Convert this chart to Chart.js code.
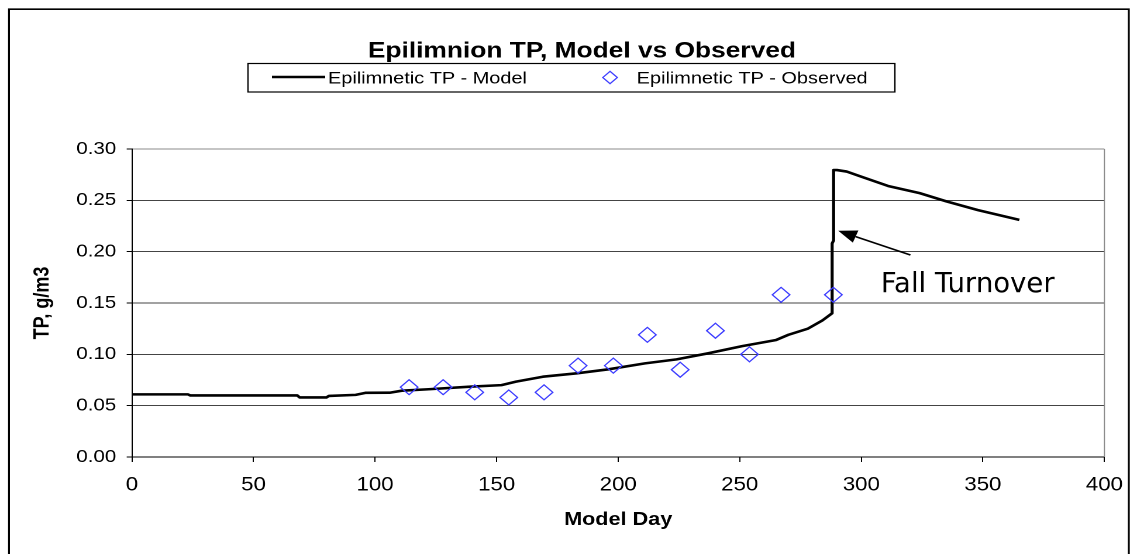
<!DOCTYPE html>
<html>
<head>
<meta charset="utf-8">
<script src="https://cdn.jsdelivr.net/npm/chart.js@4.4.1/dist/chart.umd.min.js"></script>
<style>
  html, body { margin: 0; padding: 0; background: #fff; overflow: hidden; }
  #wrap { width: 972px; height: 554px; transform: scaleX(1.16975); transform-origin: 0 0; }
</style>
</head>
<body>
<div id="wrap"><canvas id="c" width="972" height="554"></canvas></div>
<script>
// ---- data ----
const modelDays = [0, 23, 24, 68, 69, 80, 81, 92, 96, 106, 111, 122, 139, 152, 158, 169, 183, 196, 211, 224, 237, 251, 265, 270, 278, 284, 288, 288, 288.6, 288.6, 290, 294, 300, 311, 324, 335, 348, 365];
const modelTP   = [0.061, 0.061, 0.060, 0.060, 0.058, 0.058, 0.0595, 0.0605, 0.0625, 0.0626, 0.0646, 0.066, 0.0685, 0.070, 0.0734, 0.0782, 0.0815, 0.0854, 0.0912, 0.0951, 0.101, 0.108, 0.114, 0.119, 0.125, 0.133, 0.140, 0.208, 0.211, 0.2795, 0.2795, 0.278, 0.273, 0.264, 0.257, 0.249, 0.2405, 0.231];
const obsDays = [114, 128, 141, 155, 169.5, 183.5, 198, 212, 225.5, 240, 254, 267, 288.5];
const obsTP   = [0.068, 0.068, 0.063, 0.058, 0.063, 0.089, 0.089, 0.119, 0.085, 0.123, 0.100, 0.158, 0.158];
const seriesNames = ['Epilimnetic TP - Model', 'Epilimnetic TP - Observed'];
const chartTitle = 'Epilimnion TP, Model vs Observed';
const xTitle = 'Model Day';
const yTitle = 'TP, g/m3';
const annotationText = 'Fall Turnover';
const annotationTextAt = [308, 0.1607];
const arrowFrom = [320.2, 0.1967];
const arrowTo = [290.5, 0.2204];

const S = 1137 / 972; // horizontal stretch of the reference picture
const MODEL_COLOR = '#000000';
const OBS_COLOR = '#3c3cff';

const decor = {
  id: 'decor',
  afterDraw(chart) {
    const ctx = chart.ctx, ca = chart.chartArea, xs = chart.scales.x, ys = chart.scales.y;
    ctx.save();
    // outer frame
    ctx.strokeStyle = '#000'; ctx.lineWidth = 1.6;
    ctx.beginPath();
    ctx.moveTo(7.7, 600); ctx.lineTo(7.7, 9.2); ctx.lineTo(965, 9.2); ctx.lineTo(965, 600);
    ctx.stroke();
    // right border of the plot area
    ctx.strokeStyle = '#8a8a8a'; ctx.lineWidth = 1;
    ctx.beginPath();
    ctx.moveTo(ca.right, ca.top); ctx.lineTo(ca.right, ca.bottom);
    ctx.stroke();
    // title
    ctx.fillStyle = '#000';
    ctx.font = 'bold 22.5px "Liberation Sans", Arial, sans-serif';
    ctx.textAlign = 'center'; ctx.textBaseline = 'alphabetic';
    ctx.fillText(chartTitle, 497.5, 57.3);
    // legend box
    ctx.strokeStyle = '#000'; ctx.lineWidth = 1.2;
    ctx.strokeRect(212, 63.5, 553, 28.5);
    ctx.strokeStyle = MODEL_COLOR; ctx.lineWidth = 2.6;
    ctx.beginPath(); ctx.moveTo(232.5, 77); ctx.lineTo(278, 77); ctx.stroke();
    ctx.font = '17px "Liberation Sans", Arial, sans-serif';
    ctx.textAlign = 'left';
    ctx.fillText(seriesNames[0], 280.4, 83.3);
    ctx.strokeStyle = OBS_COLOR; ctx.lineWidth = 1.2;
    const dx = 521.5, dy = 77.5, r = 6.2;
    ctx.beginPath(); ctx.moveTo(dx - r, dy); ctx.lineTo(dx, dy - r); ctx.lineTo(dx + r, dy); ctx.lineTo(dx, dy + r); ctx.closePath(); ctx.stroke();
    ctx.fillText(seriesNames[1], 544.3, 83.3);
    // annotation arrow
    const fx = xs.getPixelForValue(arrowFrom[0]), fy = ys.getPixelForValue(arrowFrom[1]);
    const tx = xs.getPixelForValue(arrowTo[0]), ty = ys.getPixelForValue(arrowTo[1]);
    const ang = Math.atan2(ty - fy, tx - fx);
    const hl = 16, hw = 6.5;
    const bx = tx - Math.cos(ang) * hl, by = ty - Math.sin(ang) * hl;
    ctx.strokeStyle = '#000'; ctx.fillStyle = '#000'; ctx.lineWidth = 1.6;
    ctx.beginPath(); ctx.moveTo(fx, fy); ctx.lineTo(bx, by); ctx.stroke();
    ctx.beginPath();
    ctx.moveTo(tx, ty);
    ctx.lineTo(bx + Math.sin(ang) * hw, by - Math.cos(ang) * hw);
    ctx.lineTo(bx - Math.sin(ang) * hw, by + Math.cos(ang) * hw);
    ctx.closePath(); ctx.fill();
    // annotation text (drawn without the horizontal stretch)
    const lx = xs.getPixelForValue(annotationTextAt[0]), ly = ys.getPixelForValue(annotationTextAt[1]);
    ctx.translate(lx, ly); ctx.scale(1 / S, 1);
    ctx.font = '27.5px "DejaVu Sans", Verdana, sans-serif';
    ctx.textAlign = 'left'; ctx.textBaseline = 'alphabetic';
    ctx.fillText(annotationText, 0, 0);
    ctx.restore();
  }
};

new Chart(document.getElementById('c'), {
  type: 'scatter',
  data: {
    datasets: [
      {
        label: seriesNames[0],
        data: modelDays.map((d, i) => ({ x: d, y: modelTP[i] })),
        showLine: true, borderColor: MODEL_COLOR, borderWidth: 2.6, pointRadius: 0,
        tension: 0, borderJoinStyle: 'round', order: 2
      },
      {
        label: seriesNames[1],
        data: obsDays.map((d, i) => ({ x: d, y: obsTP[i] })),
        showLine: false, pointStyle: 'rectRot', pointRadius: 7.5, pointBorderWidth: 1.2,
        borderColor: OBS_COLOR, backgroundColor: 'rgba(0,0,0,0)', order: 1
      }
    ]
  },
  options: {
    responsive: false, animation: false, devicePixelRatio: 2,
    layout: { padding: { left: 0, right: 26.5, top: 149, bottom: 0 } },
    plugins: { legend: { display: false }, title: { display: false }, tooltip: { enabled: false } },
    scales: {
      x: {
        type: 'linear', min: 0, max: 400,
        ticks: { stepSize: 50, maxRotation: 0, color: '#000', padding: 12,
                 font: { family: '"Liberation Sans Narrow", "Liberation Sans", Arial', size: 19 } },
        grid: { drawOnChartArea: false, drawTicks: true, tickLength: 5, tickColor: '#000' },
        border: { color: '#000', width: 1 },
        title: { display: true, text: xTitle, color: '#000', padding: { top: 23, bottom: 23 },
                 font: { family: '"Liberation Sans", Arial', size: 18.5, weight: 'bold' } },
        afterFit(s) { s.height = 97; }
      },
      y: {
        min: 0, max: 0.3,
        ticks: { stepSize: 0.05, color: '#000', padding: 9, callback: v => Number(v).toFixed(2),
                 font: { family: '"Liberation Sans", Arial', size: 17.5 } },
        grid: { color: c => (c.tick && Math.abs(c.tick.value - 0.3) < 1e-6) ? '#8a8a8a' : (c.tick && c.tick.value === 0 ? '#000' : '#444'),
                lineWidth: 1, tickLength: 4.5, tickColor: '#000' },
        border: { color: '#000', width: 1 },
        title: { display: true, text: yTitle, color: '#000', padding: { top: 25.5, bottom: 25.5 },
                 font: { family: '"Liberation Sans", Arial', size: 18, weight: 'bold' } },
        afterFit(s) { s.width = 112.8; }
      }
    }
  },
  plugins: [decor]
});
</script>
</body>
</html>
